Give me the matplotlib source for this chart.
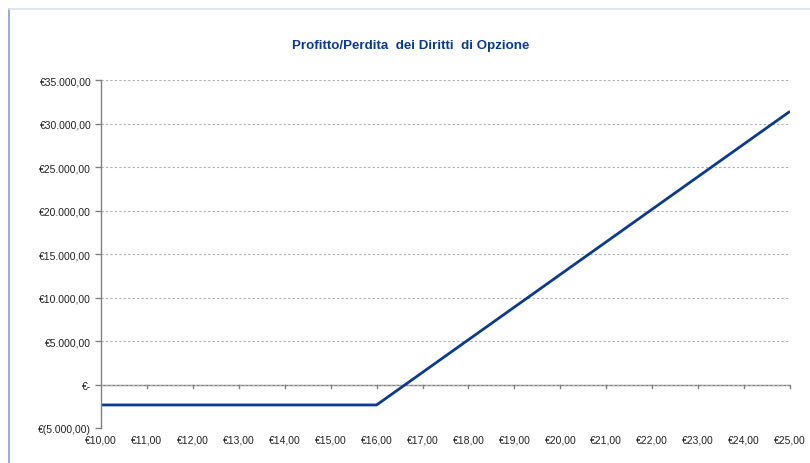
import matplotlib
matplotlib.use('Agg')
import matplotlib.pyplot as plt
from matplotlib.lines import Line2D
from matplotlib.ticker import FuncFormatter

# ---------- Data -------------------------------------------------------------
prices = [10, 11, 12, 13, 14, 15, 16, 17, 18, 19, 20, 21, 22, 23, 24, 25]
profit = [-2350, -2350, -2350, -2350, -2350, -2350, -2350,
          1400, 5150, 8900, 12650, 16400, 20150, 23900, 27650, 31400]
y_ticks = [-5000, 0, 5000, 10000, 15000, 20000, 25000, 30000, 35000]
title = "Profitto/Perdita  dei Diritti  di Opzione"

plt.rcParams['font.family'] = ['Liberation Sans', 'DejaVu Sans']


def eur_y(v, pos=None):
    if v == 0:
        return "€-"
    s = f"{abs(v):,.2f}".replace(",", "X").replace(".", ",").replace("X", ".")
    return f"€({s})" if v < 0 else f"€{s}"


def eur_x(v, pos=None):
    return f"€{v:.2f}".replace(".", ",")


fig = plt.figure(figsize=(8.1, 4.64), dpi=100)
ax = fig.add_axes([0.1247, 0.0754, 0.8506, 0.75])

ax.plot(prices, profit, color='#0b3a94', lw=2.0, solid_capstyle='butt')

ax.set_xlim(10, 25)
ax.set_ylim(-5000, 35000)
ax.set_xticks(prices)
ax.set_yticks(y_ticks)
ax.xaxis.set_major_formatter(FuncFormatter(eur_x))
ax.yaxis.set_major_formatter(FuncFormatter(eur_y))

ax.grid(axis='y', ls=(0, (2, 2)), color='#b0b0b0', lw=0.8)
for sp in ['top', 'right', 'bottom']:
    ax.spines[sp].set_visible(False)
ax.spines['left'].set_color('#808080')
ax.spines['left'].set_linewidth(1.0)
ax.axhline(0, color='#808080', lw=1.0, zorder=1)

# x ticks drawn on the zero line
for p in prices[1:]:
    ax.plot([p, p], [0, -350], color='#808080', lw=1.0, clip_on=False)

ax.tick_params(axis='x', length=0, labelsize=7.5, colors='#222222', pad=5)
ax.tick_params(axis='y', length=4, width=1.0, color='#808080',
               labelsize=7.5, labelcolor='#222222', pad=3)

fig.text(0.507, 0.9, title, ha='center', va='center', fontsize=9.6,
         fontweight='bold', color='#0b3a94')

# chart area border
fig.add_artist(Line2D([0.0105, 0.0105], [0.0, 0.978], color='#7f9fd6', lw=1.2))
fig.add_artist(Line2D([0.0105, 1.0], [0.978, 0.978], color='#d8e0ee', lw=1.2))

fig.savefig('out.png', dpi=100)
